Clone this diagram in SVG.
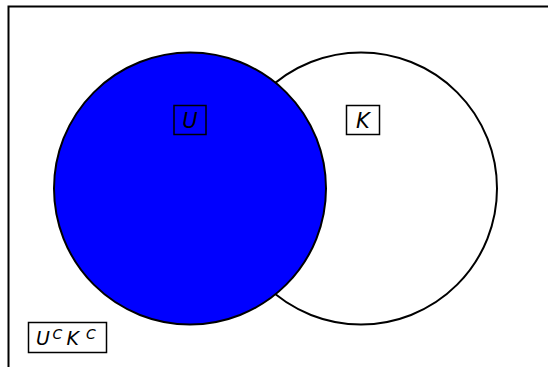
<svg xmlns="http://www.w3.org/2000/svg" width="548" height="367" viewBox="0 0 548 367">
<style>
.c{stroke:#000;stroke-width:2}
.b{fill:none;stroke:#000;stroke-width:1.5}
.t{font-family:"DejaVu Sans",sans-serif;font-style:italic;font-size:21px;fill:#000}
.m{font-size:19px}
.s{font-size:14px}
</style>
<rect width="548" height="367" fill="#fff"/>
<path d="M8.5,367 V6.5 H548" fill="none" stroke="#000" stroke-width="2"/>
<g id="K"><circle class="c" cx="361" cy="188.5" r="136" fill="#fff"/></g>
<g id="U"><circle class="c" cx="190" cy="188.5" r="136" fill="#0000ff"/></g>
<g id="labelU"><rect class="b" x="174" y="105.5" width="32" height="29"/><text class="t" x="190" y="127.5" text-anchor="middle">U</text></g>
<g id="labelK"><rect class="b" x="346.5" y="105.5" width="33" height="29"/><text class="t" x="363" y="127.5" text-anchor="middle">K</text></g>
<g id="labelUcKc"><rect class="b" x="28.5" y="322.5" width="78" height="30"/>
<text class="t m" x="36" y="344.5">U</text><text class="t s" x="52.5" y="338.5">C</text>
<text class="t m" x="66.5" y="344.5">K</text><text class="t s" x="86" y="338.5">C</text></g>
<g id="connectors"/>
</svg>
